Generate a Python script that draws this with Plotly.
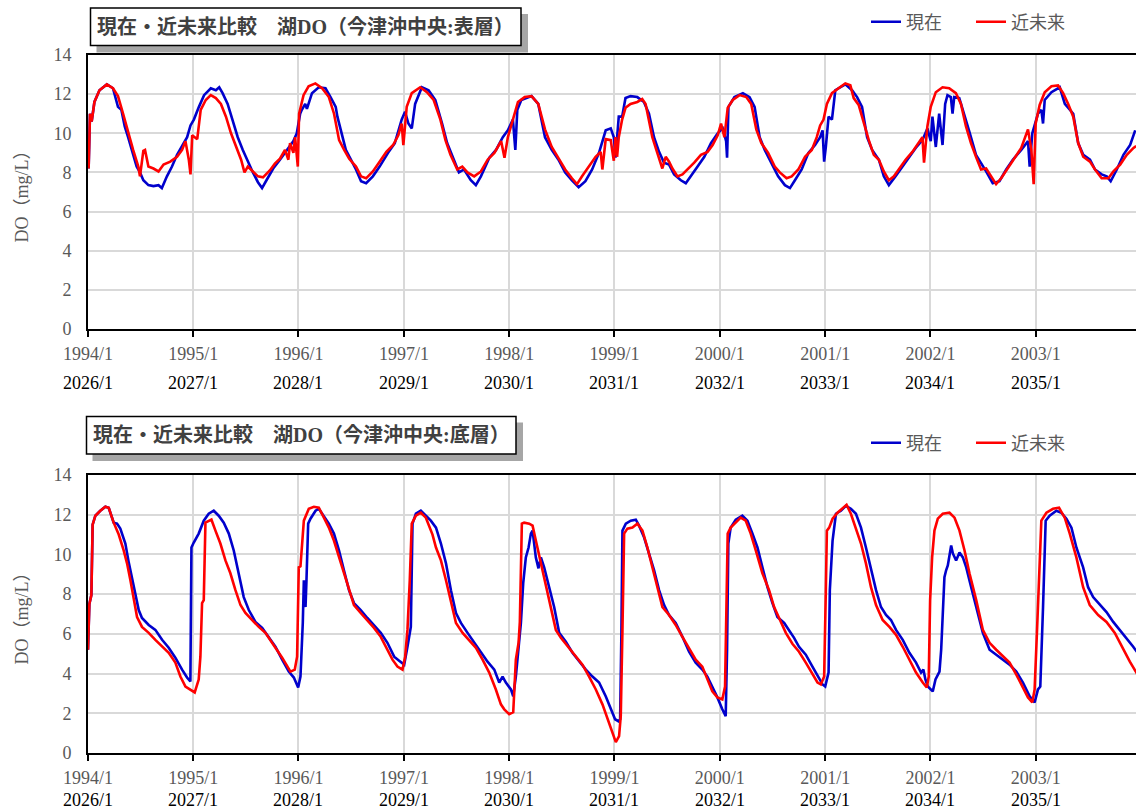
import plotly.graph_objects as go
from datetime import datetime, timedelta

# ---------------- data (decimal year, DO mg/L) ----------------
TOP_NOW = [
    (1994.006, 8.2), (1994.019, 11.0), (1994.035, 10.6), (1994.061, 11.6), (1994.109, 12.2), (1994.179, 12.5),
    (1994.237, 12.3), (1994.253, 12.0), (1994.285, 11.35), (1994.317, 11.2), (1994.349, 10.35), (1994.381, 9.8),
    (1994.413, 9.15), (1994.462, 8.3), (1994.494, 8.0), (1994.526, 7.6), (1994.574, 7.35), (1994.622, 7.3),
    (1994.670, 7.35), (1994.702, 7.2), (1994.750, 7.8), (1994.798, 8.3), (1994.846, 8.9), (1994.910, 9.5),
    (1994.942, 9.8), (1994.974, 10.4), (1995.006, 10.7), (1995.054, 11.35), (1995.103, 11.95), (1995.167, 12.3),
    (1995.215, 12.2), (1995.247, 12.35), (1995.279, 12.05), (1995.327, 11.5), (1995.375, 10.7), (1995.423, 9.8),
    (1995.471, 9.15), (1995.519, 8.55), (1995.567, 8.0), (1995.615, 7.5), (1995.654, 7.2), (1995.696, 7.6),
    (1995.760, 8.2), (1995.824, 8.65), (1995.888, 9.15), (1995.952, 9.6), (1995.984, 10.0), (1996.016, 11.0),
    (1996.032, 11.2), (1996.064, 11.5), (1996.080, 11.25), (1996.128, 12.05), (1996.192, 12.35), (1996.256, 12.3),
    (1996.304, 11.85), (1996.353, 11.35), (1996.369, 10.85), (1996.401, 10.2), (1996.449, 9.15), (1996.497, 8.65),
    (1996.545, 8.15), (1996.593, 7.55), (1996.641, 7.45), (1996.705, 7.8), (1996.769, 8.3), (1996.849, 9.0),
    (1996.913, 9.5), (1996.978, 10.7), (1997.010, 11.1), (1997.042, 10.5), (1997.074, 10.25), (1997.106, 11.5),
    (1997.170, 12.35), (1997.234, 12.2), (1997.298, 11.7), (1997.362, 10.5), (1997.410, 9.5), (1997.474, 8.65),
    (1997.522, 8.0), (1997.571, 8.15), (1997.635, 7.6), (1997.683, 7.35), (1997.731, 7.8), (1997.811, 8.75),
    (1997.875, 9.15), (1997.939, 9.8), (1997.987, 10.15), (1998.035, 10.7), (1998.058, 9.15), (1998.077, 11.2),
    (1998.115, 11.7), (1998.212, 11.9), (1998.276, 11.5), (1998.340, 9.8), (1998.404, 9.15), (1998.468, 8.65),
    (1998.532, 8.0), (1998.596, 7.6), (1998.660, 7.25), (1998.724, 7.55), (1998.788, 8.15), (1998.853, 9.0),
    (1998.917, 10.15), (1998.965, 10.25), (1998.994, 9.8), (1999.010, 8.75), (1999.041, 10.85), (1999.073, 10.85),
    (1999.105, 11.8), (1999.153, 11.9), (1999.217, 11.85), (1999.280, 11.6), (1999.328, 11.0), (1999.376, 9.8),
    (1999.424, 9.05), (1999.471, 8.5), (1999.519, 8.4), (1999.567, 7.9), (1999.631, 7.6), (1999.678, 7.45),
    (1999.726, 7.8), (1999.790, 8.3), (1999.854, 8.8), (1999.917, 9.5), (1999.981, 10.0), (2000.029, 10.25),
    (2000.061, 9.6), (2000.070, 8.75), (2000.083, 11.35), (2000.140, 11.85), (2000.220, 12.05), (2000.283, 11.85),
    (2000.331, 11.35), (2000.379, 9.8), (2000.427, 9.15), (2000.490, 8.5), (2000.554, 7.8), (2000.618, 7.35),
    (2000.666, 7.2), (2000.713, 7.6), (2000.777, 8.15), (2000.841, 9.0), (2000.904, 9.4), (2000.952, 9.8),
    (2000.975, 10.15), (2000.990, 8.55), (2001.006, 9.3), (2001.032, 10.85), (2001.064, 10.7), (2001.096, 12.2),
    (2001.191, 12.5), (2001.255, 12.2), (2001.303, 11.85), (2001.350, 11.35), (2001.398, 9.8), (2001.446, 9.15),
    (2001.510, 8.65), (2001.557, 7.8), (2001.605, 7.35), (2001.669, 7.8), (2001.732, 8.3), (2001.796, 8.8),
    (2001.860, 9.25), (2001.924, 9.65), (2001.971, 10.25), (2002.003, 9.6), (2002.019, 10.85), (2002.051, 9.3),
    (2002.083, 11.0), (2002.115, 9.4), (2002.140, 11.5), (2002.162, 11.95), (2002.194, 11.85), (2002.210, 11.0),
    (2002.226, 11.85), (2002.274, 11.8), (2002.322, 11.0), (2002.369, 10.1), (2002.433, 8.9), (2002.481, 8.5),
    (2002.529, 8.05), (2002.592, 7.45), (2002.656, 7.55), (2002.720, 8.15), (2002.783, 8.65), (2002.863, 9.15),
    (2002.927, 9.6), (2002.943, 8.3), (2002.968, 10.0), (2003.022, 11.0), (2003.054, 11.2), (2003.070, 10.5),
    (2003.086, 11.7), (2003.150, 12.1), (2003.229, 12.35), (2003.277, 11.5), (2003.357, 11.0), (2003.404, 9.5),
    (2003.452, 8.9), (2003.516, 8.65), (2003.564, 8.15), (2003.627, 7.9), (2003.675, 7.8), (2003.713, 7.55),
    (2003.771, 8.15), (2003.834, 8.9), (2003.898, 9.4), (2003.946, 10.15),
]

TOP_FUTURE = [
    (1994.006, 8.2), (1994.019, 11.0), (1994.035, 10.6), (1994.061, 11.6), (1994.109, 12.2), (1994.179, 12.5),
    (1994.237, 12.3), (1994.285, 11.9), (1994.333, 11.0), (1994.381, 10.0), (1994.429, 9.15), (1994.478, 8.3),
    (1994.494, 7.8), (1994.526, 9.1), (1994.542, 9.15), (1994.574, 8.3), (1994.622, 8.2), (1994.670, 8.05),
    (1994.718, 8.4), (1994.782, 8.55), (1994.846, 8.8), (1994.894, 9.15), (1994.926, 9.6), (1994.958, 8.65),
    (1994.974, 7.9), (1994.990, 9.9), (1995.038, 9.7), (1995.071, 11.2), (1995.119, 11.7), (1995.167, 11.95),
    (1995.215, 11.8), (1995.263, 11.5), (1995.311, 10.85), (1995.359, 10.0), (1995.407, 9.3), (1995.455, 8.65),
    (1995.487, 8.0), (1995.519, 8.3), (1995.567, 8.05), (1995.615, 7.8), (1995.663, 7.75), (1995.728, 8.1),
    (1995.776, 8.45), (1995.824, 8.7), (1995.872, 9.15), (1995.904, 8.65), (1995.920, 9.5), (1995.952, 9.0),
    (1995.968, 9.8), (1995.994, 8.3), (1996.006, 11.0), (1996.048, 11.95), (1996.096, 12.4), (1996.160, 12.55),
    (1996.224, 12.3), (1996.288, 11.85), (1996.337, 11.0), (1996.385, 9.65), (1996.433, 9.15), (1996.481, 8.7),
    (1996.545, 8.3), (1996.593, 7.8), (1996.641, 7.7), (1996.705, 8.05), (1996.769, 8.55), (1996.833, 9.05),
    (1996.897, 9.4), (1996.946, 9.9), (1996.978, 10.5), (1996.994, 9.4), (1997.026, 11.35), (1997.074, 12.05),
    (1997.154, 12.35), (1997.218, 12.1), (1997.282, 11.7), (1997.346, 10.7), (1997.394, 9.65), (1997.442, 8.9),
    (1997.506, 8.15), (1997.554, 8.3), (1997.603, 8.0), (1997.667, 7.8), (1997.731, 8.05), (1997.795, 8.65),
    (1997.859, 9.0), (1997.923, 9.6), (1997.955, 8.75), (1997.987, 9.8), (1998.035, 10.7), (1998.083, 11.6),
    (1998.147, 11.85), (1998.212, 11.9), (1998.276, 11.5), (1998.340, 10.2), (1998.404, 9.3), (1998.468, 8.7),
    (1998.532, 8.15), (1998.596, 7.7), (1998.644, 7.4), (1998.692, 7.8), (1998.756, 8.3), (1998.821, 8.8),
    (1998.869, 9.05), (1998.885, 8.15), (1998.917, 9.7), (1998.965, 9.65), (1998.978, 9.15), (1998.994, 8.6),
    (1999.010, 9.8), (1999.025, 8.8), (1999.041, 9.8), (1999.073, 10.7), (1999.105, 11.3), (1999.153, 11.5),
    (1999.217, 11.6), (1999.264, 11.75), (1999.296, 11.5), (1999.328, 10.7), (1999.360, 9.8), (1999.392, 9.25),
    (1999.439, 8.55), (1999.455, 8.2), (1999.487, 8.8), (1999.519, 8.55), (1999.551, 8.2), (1999.599, 7.8),
    (1999.646, 7.9), (1999.694, 8.15), (1999.758, 8.5), (1999.822, 8.9), (1999.885, 9.05), (1999.933, 9.4),
    (1999.981, 9.9), (2000.013, 10.5), (2000.045, 9.8), (2000.076, 11.3), (2000.124, 11.7), (2000.188, 11.95),
    (2000.252, 11.85), (2000.299, 11.5), (2000.347, 10.2), (2000.395, 9.5), (2000.459, 9.0), (2000.522, 8.3),
    (2000.570, 8.0), (2000.634, 7.7), (2000.682, 7.8), (2000.745, 8.15), (2000.809, 8.8), (2000.873, 9.15),
    (2000.920, 9.8), (2000.952, 10.4), (2000.984, 10.7), (2001.016, 11.5), (2001.064, 12.05), (2001.127, 12.3),
    (2001.191, 12.55), (2001.239, 12.45), (2001.271, 11.8), (2001.318, 11.45), (2001.366, 10.5), (2001.414, 9.65),
    (2001.462, 8.9), (2001.510, 8.65), (2001.557, 8.05), (2001.605, 7.6), (2001.653, 7.8), (2001.701, 8.15),
    (2001.764, 8.65), (2001.828, 9.05), (2001.876, 9.4), (2001.924, 9.8), (2001.939, 8.5), (2001.971, 10.35),
    (2002.003, 11.35), (2002.051, 12.1), (2002.115, 12.35), (2002.178, 12.3), (2002.242, 12.05), (2002.290, 11.5),
    (2002.338, 10.35), (2002.385, 9.5), (2002.433, 8.8), (2002.481, 8.15), (2002.529, 8.2), (2002.576, 7.8),
    (2002.624, 7.4), (2002.672, 7.7), (2002.736, 8.2), (2002.799, 8.75), (2002.863, 9.25), (2002.927, 10.2),
    (2002.959, 9.15), (2002.981, 7.4), (2003.000, 10.5), (2003.038, 11.45), (2003.086, 12.1), (2003.150, 12.4),
    (2003.213, 12.45), (2003.261, 12.05), (2003.309, 11.5), (2003.357, 10.85), (2003.404, 9.5), (2003.452, 8.8),
    (2003.516, 8.55), (2003.564, 8.15), (2003.627, 7.7), (2003.691, 7.7), (2003.739, 8.05), (2003.803, 8.4),
    (2003.866, 8.9), (2003.930, 9.25), (2003.955, 9.35),
]

BOTTOM_NOW = [
    (1994.000, 5.2), (1994.013, 7.5), (1994.032, 7.95), (1994.044, 11.5), (1994.070, 11.95), (1994.117, 12.2),
    (1994.165, 12.4), (1994.197, 12.35), (1994.244, 11.6), (1994.276, 11.55), (1994.307, 11.3), (1994.355, 10.55),
    (1994.387, 9.6), (1994.418, 8.8), (1994.450, 8.05), (1994.482, 7.2), (1994.513, 6.8), (1994.577, 6.45),
    (1994.640, 6.2), (1994.704, 5.7), (1994.767, 5.3), (1994.830, 4.8), (1994.894, 4.2), (1994.941, 3.8),
    (1994.973, 3.6), (1994.983, 10.35), (1995.005, 10.6), (1995.052, 11.05), (1995.100, 11.7), (1995.147, 12.05),
    (1995.195, 12.2), (1995.242, 11.95), (1995.290, 11.6), (1995.338, 11.05), (1995.385, 10.2), (1995.433, 9.05),
    (1995.480, 7.85), (1995.528, 7.2), (1995.591, 6.6), (1995.655, 6.3), (1995.718, 5.8), (1995.781, 5.35),
    (1995.845, 4.7), (1995.908, 4.1), (1995.956, 3.8), (1995.997, 3.3), (1996.019, 3.85), (1996.041, 6.55),
    (1996.051, 8.7), (1996.067, 7.35), (1996.076, 8.7), (1996.092, 11.55), (1996.114, 11.8), (1996.162, 12.2),
    (1996.193, 12.3), (1996.241, 11.95), (1996.288, 11.55), (1996.336, 11.05), (1996.384, 10.2), (1996.431, 9.2),
    (1996.479, 8.2), (1996.526, 7.55), (1996.590, 7.2), (1996.653, 6.8), (1996.716, 6.45), (1996.780, 6.05),
    (1996.843, 5.55), (1996.907, 4.85), (1996.954, 4.65), (1997.002, 4.45), (1997.033, 5.35), (1997.065, 6.35),
    (1997.081, 11.55), (1997.113, 12.05), (1997.160, 12.2), (1997.208, 11.95), (1997.255, 11.7), (1997.304, 11.35),
    (1997.351, 10.55), (1997.399, 9.55), (1997.446, 8.2), (1997.494, 7.05), (1997.541, 6.55), (1997.604, 6.05),
    (1997.668, 5.55), (1997.731, 5.05), (1997.794, 4.6), (1997.858, 4.2), (1997.905, 3.55), (1997.937, 3.85),
    (1997.968, 3.55), (1998.016, 3.2), (1998.038, 2.85), (1998.063, 3.85), (1998.095, 5.55), (1998.111, 6.55),
    (1998.133, 8.55), (1998.158, 9.85), (1998.184, 10.35), (1998.206, 11.05), (1998.222, 11.2), (1998.253, 9.85),
    (1998.278, 9.3), (1998.301, 9.85), (1998.332, 9.35), (1998.380, 8.35), (1998.427, 7.35), (1998.475, 6.05),
    (1998.538, 5.6), (1998.601, 5.05), (1998.665, 4.6), (1998.728, 4.2), (1998.791, 3.85), (1998.854, 3.55),
    (1998.918, 2.85), (1998.965, 2.2), (1999.006, 1.7), (1999.038, 1.6), (1999.054, 1.7), (1999.066, 6.05),
    (1999.076, 11.2), (1999.108, 11.55), (1999.155, 11.7), (1999.203, 11.75), (1999.234, 11.45), (1999.282, 10.85),
    (1999.329, 10.05), (1999.377, 9.2), (1999.424, 8.2), (1999.472, 7.45), (1999.519, 6.95), (1999.582, 6.55),
    (1999.646, 5.85), (1999.709, 5.1), (1999.772, 4.55), (1999.835, 4.2), (1999.883, 3.85), (1999.930, 3.35),
    (1999.978, 2.8), (2000.025, 2.2), (2000.057, 1.85), (2000.070, 5.2), (2000.082, 10.55), (2000.104, 11.35),
    (2000.152, 11.75), (2000.215, 11.95), (2000.263, 11.7), (2000.310, 11.05), (2000.358, 10.35), (2000.405, 9.35),
    (2000.453, 8.35), (2000.500, 7.55), (2000.547, 6.85), (2000.611, 6.55), (2000.673, 6.05), (2000.705, 5.8),
    (2000.752, 5.35), (2000.816, 4.95), (2000.879, 4.35), (2000.943, 3.7), (2000.975, 3.45), (2001.000, 3.35),
    (2001.032, 4.05), (2001.044, 8.2), (2001.054, 9.35), (2001.070, 10.7), (2001.102, 12.05), (2001.149, 12.2),
    (2001.197, 12.45), (2001.244, 12.3), (2001.292, 12.05), (2001.340, 11.35), (2001.387, 10.35), (2001.435, 9.2),
    (2001.483, 8.2), (2001.530, 7.35), (2001.578, 6.95), (2001.625, 6.7), (2001.673, 6.2), (2001.737, 5.7),
    (2001.800, 5.05), (2001.863, 4.55), (2001.911, 4.05), (2001.933, 4.2), (2001.952, 3.7), (2001.975, 3.35),
    (2002.022, 3.1), (2002.048, 3.7), (2002.086, 4.1), (2002.102, 5.2), (2002.133, 8.85), (2002.149, 9.2),
    (2002.165, 9.45), (2002.197, 10.45), (2002.213, 10.05), (2002.244, 9.7), (2002.276, 10.1), (2002.308, 9.85),
    (2002.340, 9.35), (2002.387, 8.35), (2002.435, 7.35), (2002.498, 6.05), (2002.562, 5.2), (2002.625, 4.95),
    (2002.689, 4.7), (2002.752, 4.45), (2002.816, 4.1), (2002.879, 3.55), (2002.943, 2.85), (2002.990, 2.55),
    (2003.022, 3.2), (2003.044, 3.35), (2003.070, 7.35), (2003.095, 11.7), (2003.133, 11.95), (2003.197, 12.2),
    (2003.244, 12.1), (2003.292, 11.8), (2003.340, 11.35), (2003.387, 10.35), (2003.451, 9.35), (2003.498, 8.35),
    (2003.546, 7.85), (2003.610, 7.45), (2003.673, 7.1), (2003.737, 6.6), (2003.800, 6.2), (2003.863, 5.8),
    (2003.927, 5.35), (2003.968, 5.05),
]

BOTTOM_FUTURE = [
    (1994.000, 5.2), (1994.013, 7.5), (1994.032, 7.95), (1994.044, 11.5), (1994.070, 11.95), (1994.117, 12.2),
    (1994.165, 12.4), (1994.197, 12.35), (1994.244, 11.6), (1994.292, 11.0), (1994.339, 10.2), (1994.371, 9.55),
    (1994.403, 8.7), (1994.434, 7.85), (1994.466, 6.85), (1994.513, 6.35), (1994.577, 6.05), (1994.640, 5.7),
    (1994.704, 5.35), (1994.767, 5.05), (1994.830, 4.55), (1994.878, 3.85), (1994.926, 3.35), (1994.973, 3.2),
    (1995.014, 3.05), (1995.052, 3.7), (1995.068, 4.85), (1995.084, 7.55), (1995.100, 7.7), (1995.116, 11.6),
    (1995.147, 11.7), (1995.173, 11.75), (1995.211, 11.2), (1995.258, 10.55), (1995.306, 9.7), (1995.353, 9.05),
    (1995.401, 8.2), (1995.449, 7.45), (1995.496, 7.05), (1995.559, 6.7), (1995.623, 6.35), (1995.686, 6.05),
    (1995.734, 5.7), (1995.781, 5.3), (1995.845, 4.8), (1995.892, 4.35), (1995.924, 4.1), (1995.965, 4.2),
    (1995.987, 4.85), (1996.003, 9.35), (1996.019, 9.4), (1996.051, 11.7), (1996.098, 12.3), (1996.146, 12.4),
    (1996.193, 12.35), (1996.241, 11.85), (1996.288, 11.35), (1996.336, 10.7), (1996.384, 9.85), (1996.431, 9.05),
    (1996.479, 8.2), (1996.526, 7.45), (1996.590, 7.05), (1996.653, 6.7), (1996.716, 6.3), (1996.780, 5.85),
    (1996.843, 5.2), (1996.891, 4.7), (1996.938, 4.35), (1996.986, 4.2), (1997.011, 4.85), (1997.033, 6.2),
    (1997.055, 8.7), (1997.074, 11.55), (1997.113, 11.95), (1997.160, 12.1), (1997.208, 11.85), (1997.271, 11.0),
    (1997.304, 10.35), (1997.351, 9.7), (1997.399, 8.7), (1997.446, 7.55), (1997.494, 6.55), (1997.557, 6.05),
    (1997.620, 5.7), (1997.684, 5.3), (1997.747, 4.7), (1997.810, 4.05), (1997.873, 3.2), (1997.921, 2.45),
    (1997.953, 2.2), (1998.000, 1.95), (1998.038, 2.05), (1998.047, 3.2), (1998.063, 4.7), (1998.089, 5.55),
    (1998.101, 6.6), (1998.120, 11.55), (1998.142, 11.6), (1998.190, 11.55), (1998.222, 11.45), (1998.253, 10.7),
    (1998.301, 9.55), (1998.348, 8.55), (1998.396, 7.35), (1998.443, 6.2), (1998.491, 5.8), (1998.570, 5.3),
    (1998.633, 4.85), (1998.696, 4.45), (1998.759, 3.85), (1998.823, 3.2), (1998.886, 2.45), (1998.934, 1.7),
    (1998.981, 1.05), (1999.013, 0.55), (1999.044, 0.85), (1999.060, 1.85), (1999.076, 6.2), (1999.092, 11.05),
    (1999.123, 11.3), (1999.171, 11.35), (1999.218, 11.55), (1999.266, 11.2), (1999.313, 10.35), (1999.361, 9.35),
    (1999.408, 8.35), (1999.456, 7.35), (1999.519, 6.95), (1999.582, 6.45), (1999.646, 5.85), (1999.709, 5.3),
    (1999.772, 4.7), (1999.835, 4.35), (1999.883, 3.7), (1999.930, 3.1), (1999.978, 2.8), (2000.025, 2.7),
    (2000.051, 3.35), (2000.063, 7.35), (2000.076, 11.05), (2000.104, 11.35), (2000.152, 11.6), (2000.199, 11.85),
    (2000.247, 11.7), (2000.294, 11.05), (2000.342, 10.2), (2000.405, 9.05), (2000.468, 8.2), (2000.516, 7.35),
    (2000.563, 6.8), (2000.627, 6.05), (2000.689, 5.5), (2000.752, 5.1), (2000.816, 4.55), (2000.879, 3.95),
    (2000.927, 3.55), (2000.959, 3.45), (2000.990, 3.85), (2001.006, 8.2), (2001.016, 11.2), (2001.038, 11.35),
    (2001.070, 11.8), (2001.117, 12.1), (2001.165, 12.3), (2001.203, 12.5), (2001.244, 12.05), (2001.292, 11.35),
    (2001.340, 10.55), (2001.387, 9.55), (2001.435, 8.35), (2001.483, 7.45), (2001.546, 6.7), (2001.610, 6.35),
    (2001.673, 5.95), (2001.737, 5.35), (2001.800, 4.7), (2001.863, 4.05), (2001.927, 3.55), (2001.965, 3.3),
    (2001.984, 3.85), (2001.997, 7.7), (2002.016, 9.85), (2002.038, 11.2), (2002.070, 11.8), (2002.117, 12.05),
    (2002.181, 12.1), (2002.229, 11.85), (2002.276, 11.2), (2002.324, 10.2), (2002.371, 9.05), (2002.435, 7.7),
    (2002.498, 6.2), (2002.562, 5.55), (2002.625, 5.2), (2002.689, 4.85), (2002.752, 4.55), (2002.816, 3.95),
    (2002.879, 3.3), (2002.927, 2.8), (2002.968, 2.55), (2002.990, 3.2), (2003.013, 6.2), (2003.032, 9.05),
    (2003.054, 11.7), (2003.102, 12.1), (2003.165, 12.3), (2003.222, 12.35), (2003.276, 11.85), (2003.324, 11.05),
    (2003.387, 9.85), (2003.451, 8.35), (2003.514, 7.45), (2003.594, 6.95), (2003.673, 6.6), (2003.752, 6.05),
    (2003.832, 5.2), (2003.895, 4.6), (2003.968, 3.95),
]

YEARS_NOW = [1994, 1995, 1996, 1997, 1998, 1999, 2000, 2001, 2002, 2003]
TICK_LABELS_NOW = ["1994/1", "1995/1", "1996/1", "1997/1", "1998/1", "1999/1", "2000/1", "2001/1", "2002/1", "2003/1"]
TICK_LABELS_FUTURE = ["2026/1", "2027/1", "2028/1", "2029/1", "2030/1", "2031/1", "2032/1", "2033/1", "2034/1", "2035/1"]
SERIES_NAMES = ["現在", "近未来"]
TITLES = ["現在・近未来比較　湖DO（今津沖中央:表層）", "現在・近未来比較　湖DO（今津沖中央:底層）"]
Y_TITLE = "DO（mg/L）"
X_END = "2003-12-15"


def to_date(t):
    y = int(t)
    start = datetime(y, 1, 1)
    days = (datetime(y + 1, 1, 1) - start).days
    return start + timedelta(days=(t - y) * days)


def split(series):
    return [to_date(t) for t, _ in series], [v for _, v in series]


# ---------------- layout helpers (pixels -> paper) ----------------
W, H = 1136, 812
ML, MR, MT, MB = 88, 0, 55, 59
PW, PH = W - ML - MR, H - MT - MB


def px(xp):
    return (xp - ML) / PW


def py(yp):
    return (H - MB - yp) / PH


SERIF = "'Liberation Serif', 'Noto Sans CJK JP', serif"
CJK = "'Noto Sans CJK JP', sans-serif"
GRAY = "#595959"
BLUE = "#0000CC"
RED = "#FF0000"

fig = go.Figure()

for (now, fut, xa, ya, leg) in [(TOP_NOW, TOP_FUTURE, "x", "y", "legend"),
                                (BOTTOM_NOW, BOTTOM_FUTURE, "x2", "y2", "legend2")]:
    xs, ys = split(now)
    fig.add_trace(go.Scatter(x=xs, y=ys, mode="lines", name=SERIES_NAMES[0],
                             line=dict(color=BLUE, width=2.6), xaxis=xa, yaxis=ya, legend=leg))
    xs, ys = split(fut)
    fig.add_trace(go.Scatter(x=xs, y=ys, mode="lines", name=SERIES_NAMES[1],
                             line=dict(color=RED, width=2.6), xaxis=xa, yaxis=ya, legend=leg))

tickvals = [datetime(y, 1, 1) for y in YEARS_NOW]

xcommon = dict(type="date", range=[datetime(1994, 1, 1), X_END], tickmode="array",
               tickvals=tickvals, ticktext=TICK_LABELS_NOW, showgrid=True, gridcolor="#d9d9d9",
               gridwidth=1.5, showline=True, linecolor="black", linewidth=2, mirror=True,
               ticks="outside", ticklen=6, tickwidth=1.5, tickcolor="black", ticklabelstandoff=1,
               tickfont=dict(family=SERIF, size=18, color=GRAY), zeroline=False)
ycommon = dict(range=[0, 14], dtick=2, tick0=0, showgrid=True, gridcolor="#d9d9d9", gridwidth=1.5,
               showline=True, linecolor="black", linewidth=2, ticks="", ticklabelstandoff=11,
               tickfont=dict(family=SERIF, size=18, color=GRAY), zeroline=False,
               title=dict(text=Y_TITLE, font=dict(family=SERIF, size=18, color=GRAY), standoff=20))

top_lo = py(329)
bot_hi = py(475)

legend_common = dict(orientation="h", xanchor="left", yanchor="middle", entrywidth=60,
                     entrywidthmode="pixels", font=dict(family=CJK, size=18, color=GRAY),
                     bgcolor="rgba(0,0,0,0)")

fig.update_layout(
    width=W, height=H, margin=dict(l=ML, r=MR, t=MT, b=MB),
    paper_bgcolor="white", plot_bgcolor="white",
    xaxis=dict(**xcommon, anchor="y", domain=[0, 1]),
    yaxis=dict(**ycommon, anchor="x", domain=[top_lo, 1]),
    xaxis2=dict(**xcommon, anchor="y2", domain=[0, 1]),
    yaxis2=dict(**ycommon, anchor="x2", domain=[0, bot_hi]),
    legend=dict(**legend_common, x=px(866), y=py(22)),
    legend2=dict(**legend_common, x=px(866), y=py(443)),
    showlegend=True,
)

# title boxes with drop shadow
boxes = [((90.5, 8, 521, 45.5), TITLES[0]), ((86.5, 416.5, 516, 454), TITLES[1])]
for (x0, y0, x1, y1), text in boxes:
    fig.add_shape(type="rect", xref="paper", yref="paper", x0=px(x0 + 6), x1=px(x1 + 7),
                  y0=py(y1 + 7), y1=py(y0 + 6), fillcolor="#a6a6a6", line=dict(width=0))
    fig.add_shape(type="rect", xref="paper", yref="paper", x0=px(x0), x1=px(x1),
                  y0=py(y1), y1=py(y0), fillcolor="white", line=dict(color="black", width=1.5))
    fig.add_annotation(xref="paper", yref="paper", x=px((x0 + x1) / 2), y=py((y0 + y1) / 2),
                       xanchor="center", yanchor="middle", showarrow=False, text=text,
                       font=dict(family=SERIF, size=20, color="#404040", weight="bold"))

# second row of tick labels (near-future years)
for xa, yrow in [("x", 383), ("x2", 800)]:
    for tv, lab in zip(tickvals, TICK_LABELS_FUTURE):
        fig.add_annotation(xref=xa, yref="paper", x=tv, y=py(yrow), xanchor="center",
                           yanchor="middle", showarrow=False, text=lab,
                           font=dict(family=SERIF, size=18, color="black"))

fig.write_html("out.html", config={"displayModeBar": False},
               post_script="document.body.style.margin='0';")
